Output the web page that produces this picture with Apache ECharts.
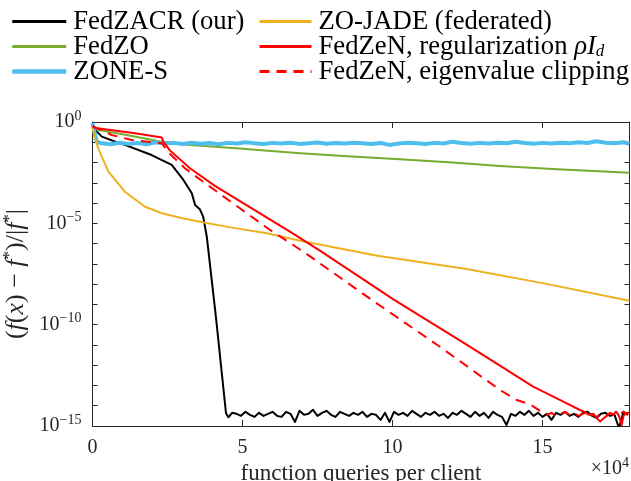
<!DOCTYPE html>
<html><head><meta charset="utf-8">
<script src="https://cdn.jsdelivr.net/npm/echarts@6/dist/echarts.min.js"></script>
<style>html,body{margin:0;padding:0;background:#fff}#c{width:631px;height:481px}</style>
</head><body><div id="c"></div><script>
// x values in units of 10^4 function queries per client; y values stored as log10 of relative error
const seriesNames = ['FedZACR (our)', 'FedZO', 'ZONE-S', 'ZO-JADE (federated)', 'FedZeN, regularization ρI_d', 'FedZeN, eigenvalue clipping'];

const floorX = [4.65,4.8,4.95,5.1,5.25,5.4,5.55,5.7,5.85,6.0,6.15,6.3,6.45,6.6,6.75,6.9,7.05,7.2,7.35,7.5,7.65,7.8,7.95,8.1,8.25,8.4,8.55,8.7,8.85,9.0,9.15,9.3,9.45,9.6,9.75,9.9,10.05,10.2,10.35,10.5,10.65,10.8,10.95,11.1,11.25,11.4,11.55,11.7,11.85,12.0,12.15,12.3,12.45,12.6,12.75,12.9,13.05,13.2,13.35,13.5,13.65,13.8,13.95,14.1,14.25,14.4,14.55,14.7,14.85,15.0,15.15,15.3,15.45,15.6,15.75,15.9,16.05,16.2,16.35,16.5,16.65,16.8,16.95,17.1,17.25,17.4,17.55,17.7,17.85];

const fedzacrX = [0,0.31,0.9,1.08,1.97,2.64,3.03,3.31,3.42,3.58,3.69,3.81,4.12,4.45,4.53].concat(floorX);
const fedzacrLog = [-0.25,-0.72,-1.05,-1.13,-1.63,-2.12,-2.86,-3.52,-4.1,-4.31,-4.67,-5.66,-9.7,-14.37,-14.57,
 -14.35,-14.4,-14.5,-14.3,-14.45,-14.55,-14.35,-14.5,-14.4,-14.3,
 -14.5,-14.55,-14.3,-14.4,-14.8,-14.25,-14.45,-14.4,-14.2,-14.5,
 -14.35,-14.25,-14.45,-14.55,-14.3,-14.4,-14.5,-14.35,-14.45,-14.3,
 -14.55,-14.4,-14.45,-14.7,-14.35,-14.8,-14.3,-14.45,-14.35,-14.5,
 -14.25,-14.4,-14.55,-14.35,-14.45,-14.3,-14.5,-14.4,-14.6,-14.35,
 -14.45,-14.25,-14.4,-14.55,-14.3,-14.5,-14.35,-14.6,-14.3,-14.45,
 -14.55,-14.95,-14.4,-14.5,-14.3,-14.45,-14.25,-14.5,-14.35,-14.55,
 -14.4,-14.7,-14.35,-14.45,-14.3,-14.5,-14.4,-14.55,-14.35,-14.3,
 -14.5,-14.6,-14.4,-14.35,-14.5,-14.45,-15.1,-14.3,-14.45];

const fedzoX = [0,0.3,1.0,2.31,3.25,4.08,5.0,6.92,8.5,10.25,12.0,13.58,15.5,17.9];
const fedzoLog = [-0.3,-0.42,-0.6,-0.97,-1.13,-1.22,-1.32,-1.54,-1.69,-1.84,-2.0,-2.17,-2.33,-2.5];

const zonesX = [0,0.14,0.3,0.6,0.9,1.2,1.5,1.8,2.1,2.4,2.7,3.0,3.3,3.6,3.9,4.2,4.5,4.8,5.1,5.4,5.7,6.0,6.3,6.6,6.9,7.2,7.5,7.8,8.1,8.4,8.7,9.0,9.3,9.6,9.9,10.2,10.5,10.8,11.1,11.4,11.7,12.0,12.3,12.6,12.9,13.2,13.5,13.8,14.1,14.4,14.7,15.0,15.3,15.6,15.9,16.2,16.5,16.8,17.1,17.4,17.7,17.9];
const zonesLog = [-0.05,-0.97,-1.05,-1.1,-1.02,-1.08,-1.04,-1.1,-1.0,-1.06,
 -1.03,-1.08,-1.02,-1.07,-1.04,-1.1,-1.03,-1.06,-1.0,-1.05,
 -1.08,-1.03,-1.06,-1.02,-1.08,-1.05,-1.01,-1.07,-1.04,-1.06,
 -1.02,-1.05,-1.09,-1.04,-1.13,-1.06,-1.02,-1.05,-1.08,-1.03,
 -1.06,-0.97,-1.04,-1.07,-1.03,-1.06,-1.02,-1.05,-0.97,-1.04,
 -1.07,-1.03,-1.06,-1.02,-1.05,-1.0,-1.04,-0.95,-1.02,-1.05,
 -1.0,-1.07];

const zojadeX = [0,0.08,0.19,0.53,1.08,1.75,2.31,3.0,3.58,4.6,5.81,6.92,9.5,12.47,15.0,17.9];
const zojadeLog = [-0.31,-0.75,-1.3,-2.45,-3.44,-4.18,-4.5,-4.75,-4.92,-5.2,-5.49,-5.86,-6.6,-7.25,-7.95,-8.82];

const fedzenRegX = [0,0.1,1.42,2.31,2.36,2.58,3.25,4.08,6.58,7.58,10.03,12.47,14.69,15.36,15.81,16.25,16.4,16.55,16.7,16.8,16.92,17.05,17.15,17.25,17.35,17.45,17.55,17.64,17.7,17.78,17.9];
const fedzenRegLog = [-0.2,-0.3,-0.56,-0.77,-0.97,-1.4,-2.28,-3.15,-5.41,-6.35,-8.75,-10.98,-13.06,-13.55,-13.88,-14.21,-14.3,-14.45,-14.4,-14.6,-14.78,-14.6,-14.5,-14.37,-14.45,-14.29,-14.5,-14.95,-14.5,-14.37,-14.34];

const fedzenClipX = [0,0.64,1.31,2.31,2.53,3.08,3.69,5.92,7.03,9.31,11.58,13.58,14.14,14.58,15.02,15.15,15.3,15.45,15.6,15.75,15.9,16.05,16.2,16.35,16.5,16.65,16.8,16.95,17.1,17.25,17.4,17.55,17.7,17.85];
const fedzenClipLog = [-0.2,-0.64,-0.89,-1.05,-1.5,-2.28,-2.95,-5.33,-6.4,-8.78,-11.09,-13.22,-13.72,-13.92,-14.36,-14.45,-14.35,-14.5,-14.4,-14.3,-14.45,-14.35,-14.5,-14.4,-14.3,-14.45,-14.55,-14.4,-14.5,-14.35,-14.45,-14.4,-14.3,-14.45];

const xTickValues = [0, 5, 10, 15];
const yTickExponents = [0, -5, -10, -15];

const FONT = 'Liberation Serif';
const AX = '#262626';

function pts(xs, logs) {
  const n = Math.min(xs.length, logs.length);
  const out = [];
  for (let i = 0; i < n; i++) out.push([xs[i], Math.pow(10, logs[i])]);
  return out;
}

function mk(name, xs, logs, color, width, type) {
  return {
    name: name, type: 'line', xAxisIndex: 0, yAxisIndex: 0,
    data: pts(xs, logs), symbol: 'none', showSymbol: false, smooth: false,
    clip: true, silent: true,
    lineStyle: { color: color, width: width, type: type || 'solid', cap: 'butt', join: 'round' },
    itemStyle: { color: color }
  };
}

const chart = echarts.init(document.getElementById('c'), null, { renderer: 'canvas' });

const legendText = {
  fontFamily: FONT, fontSize: 26.7, color: '#000', padding: [0, 0, 0, 2],
  rich: {
    i: { fontFamily: FONT, fontSize: 26.7, fontStyle: 'italic', color: '#000' },
    sub: { fontFamily: FONT, fontSize: 17, fontStyle: 'italic', color: '#000', padding: [10, 0, 0, 0] }
  }
};

function legItem(name, w) { return { name: name, lineStyle: { width: w } }; }

const option = {
  animation: false,
  backgroundColor: '#fff',
  grid: { left: 92.5, right: 1.5, top: 122, bottom: 55, containLabel: false, outerBoundsMode: 'none' },
  legend: [
    {
      data: [legItem(seriesNames[0], 3), legItem(seriesNames[1], 3), legItem(seriesNames[2], 4.5)],
      orient: 'vertical', left: 10, top: 8, padding: 0, itemWidth: 54, itemHeight: 12, itemGap: -2,
      selectedMode: false, textStyle: legendText,
      lineStyle: { width: 'inherit' }, itemStyle: { opacity: 0 }
    },
    {
      data: [legItem(seriesNames[3], 3), legItem(seriesNames[4], 3), legItem(seriesNames[5], 3)],
      orient: 'vertical', left: 258, top: 8, padding: 0, itemWidth: 52, itemHeight: 12, itemGap: -2,
      selectedMode: false, textStyle: legendText,
      lineStyle: { width: 'inherit' }, itemStyle: { opacity: 0 },
      formatter: function (n) {
        if (n === seriesNames[4]) return 'FedZeN, regularization {i|ρI}{sub|d}';
        return n;
      }
    }
  ],
  xAxis: [
    {
      type: 'value', position: 'bottom', min: 0, max: 17.9, interval: 5,
      axisLine: { show: true, onZero: false, lineStyle: { color: AX, width: 1 } },
      axisTick: { show: true, inside: true, length: 6, lineStyle: { color: AX } },
      splitLine: { show: false },
      axisLabel: {
        margin: 12, fontFamily: FONT, fontSize: 20, color: AX,
        formatter: function (v) { return xTickValues.indexOf(v) >= 0 ? String(v) : ''; }
      },
      name: 'function queries per client', nameLocation: 'middle', nameGap: 32,
      nameTextStyle: { fontFamily: FONT, fontSize: 23, color: AX }
    },
    {
      type: 'value', position: 'top', min: 0, max: 17.9, interval: 5,
      axisLine: { show: true, onZero: false, lineStyle: { color: AX, width: 1 } },
      axisTick: { show: true, inside: true, length: 6, lineStyle: { color: AX } },
      splitLine: { show: false }, axisLabel: { show: false }
    }
  ],
  yAxis: [
    {
      type: 'log', logBase: 10, min: 1e-15, max: 1, interval: 5, position: 'left',
      axisLine: { show: true, onZero: false, lineStyle: { color: AX, width: 1 } },
      axisTick: { show: false },
      splitLine: { show: false }, minorTick: { show: false }, minorSplitLine: { show: false },
      axisLabel: {
        margin: 11, color: AX,
        formatter: function (v) {
          const e = Math.round(Math.log10(v));
          if (yTickExponents.indexOf(e) < 0) return '';
          return '{b|10}{s|' + (e === 0 ? '0' : '\u2212' + (-e)) + '}';
        },
        rich: {
          b: { fontFamily: FONT, fontSize: 20, color: AX },
          s: { fontFamily: FONT, fontSize: 14, color: AX, padding: [0, 0, 12, 0] }
        }
      },
      name: '({i|f}({i|x}) \u2212 {i|f}{s|*})/|{i|f}{s|*}|', nameLocation: 'middle', nameGap: 47, nameRotate: 90,
      nameTextStyle: {
        fontFamily: FONT, fontSize: 26, color: AX,
        rich: {
          i: { fontFamily: FONT, fontSize: 26, fontStyle: 'italic', color: AX },
          s: { fontFamily: FONT, fontSize: 17, color: AX, padding: [0, 0, 12, 0] }
        }
      }
    },
    {
      type: 'value', min: -15, max: 0, interval: 1, position: 'left',
      axisLine: { show: false }, axisLabel: { show: false }, splitLine: { show: false },
      axisTick: { show: true, inside: true, length: 5, lineStyle: { color: AX, width: 1 } }
    },
    {
      type: 'value', min: -15, max: 0, interval: 1, position: 'right',
      axisLine: { show: true, onZero: false, lineStyle: { color: AX, width: 1 } },
      axisLabel: { show: false }, splitLine: { show: false },
      axisTick: { show: true, inside: true, length: 5, lineStyle: { color: AX, width: 1 } }
    }
  ],
  graphic: [
    {
      type: 'text', right: 2, top: 456, silent: true,
      style: {
        text: '{n|\u00d710}{s|4}', fill: AX,
        rich: {
          n: { fontFamily: FONT, fontSize: 20, fill: AX },
          s: { fontFamily: FONT, fontSize: 14, fill: AX, padding: [0, 0, 12, 0] }
        }
      }
    }
  ],
  series: [
    mk(seriesNames[0], fedzacrX, fedzacrLog, '#000000', 2),
    mk(seriesNames[1], fedzoX, fedzoLog, '#77AC30', 2),
    mk(seriesNames[2], zonesX, zonesLog, '#4DBEEE', 4),
    mk(seriesNames[3], zojadeX, zojadeLog, '#EDB120', 2),
    mk(seriesNames[4], fedzenRegX, fedzenRegLog, '#FF0000', 2),
    mk(seriesNames[5], fedzenClipX, fedzenClipLog, '#FF0000', 2, [10, 7])
  ]
};
chart.setOption(option);
</script></body></html>
